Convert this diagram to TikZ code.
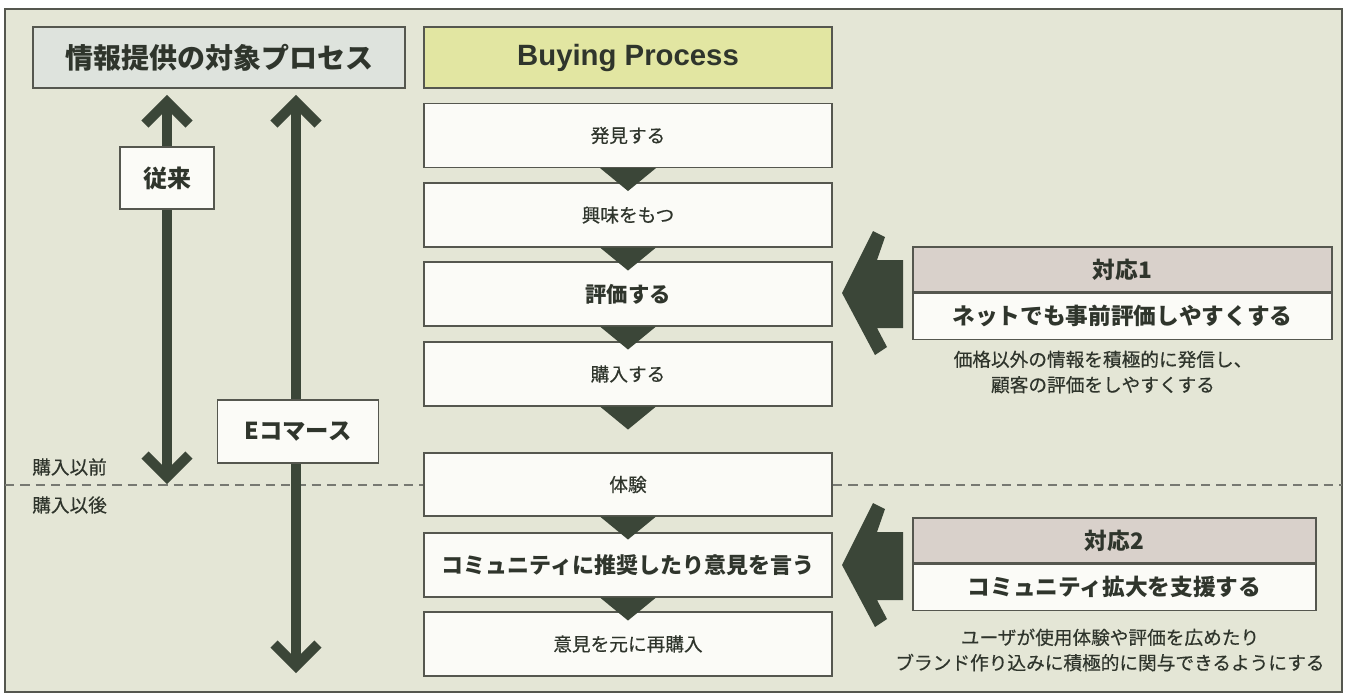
\documentclass[tikz,border=0pt]{standalone}
\usepackage{fontspec}
\setmainfont{Liberation Sans}
\newfontfamily\jp{Noto Sans CJK JP}
\newfontfamily\jpm[FakeBold=0.4]{Noto Sans CJK JP}
\definecolor{bg}{HTML}{E4E6D6}
\definecolor{titlebg}{HTML}{DEE3DD}
\definecolor{buybg}{HTML}{E2E6A2}
\definecolor{boxw}{HTML}{FBFBF7}
\definecolor{hdrbg}{HTML}{D9D1CB}
\definecolor{dk}{HTML}{3B4638}
\definecolor{txt}{HTML}{2F352C}
\definecolor{bordc}{HTML}{55574F}
\tikzset{
  box/.style={draw=bordc, line width=0.8pt, fill=boxw, inner sep=0pt, text=txt,
    minimum width=306pt, minimum height=48pt, font=\jpm\fontsize{14}{17}\selectfont},
  boldbox/.style={box, font=\jp\bfseries\fontsize{16.5}{20}\selectfont},
  hdr/.style={box, fill=hdrbg, minimum height=33.75pt, font=\jp\bfseries\fontsize{17}{20}\selectfont},
  body/.style={box, minimum height=34.5pt, font=\jp\bfseries\fontsize{17}{20}\selectfont},
  shaft/.style={draw=dk, line width=7.5pt},
  barb/.style={draw=dk, line width=7.5pt, line join=miter},
  tri/.style={fill=dk},
  bigarrow/.style={fill=dk},
  note/.style={text=txt, inner sep=0pt, align=center, font=\jpm\fontsize{14}{19}\selectfont},
  side/.style={text=txt, inner sep=0pt, font=\jpm\fontsize{14}{17}\selectfont}
}
\begin{document}
\begin{tikzpicture}[x=0.75pt,y=-0.75pt]
\useasboundingbox (0,0) rectangle (1346,697);
\fill[white] (0,0) rectangle (1346,697);
\draw[draw=bordc, line width=0.9pt, fill=bg] (5,9) rectangle (1342,692);
% dashed divider
\coordinate (dl) at (5,485);
\coordinate (dr) at (1342,485);
\draw[bordc!80, line width=0.8pt, dash pattern=on 7pt off 4.5pt] (dl) -- (dr);
\node[side, anchor=west] (before) at (32,467) {購入以前};
\node[side, anchor=west] (after) at (32,505) {購入以後};
% titles
\node[box, fill=titlebg, minimum width=279pt, minimum height=45.75pt,
  font=\jp\bfseries\fontsize{21}{25}\selectfont] (t1) at (219,57.5) {情報提供の対象プロセス};
\node[box, fill=buybg, minimum height=45.75pt,
  font=\bfseries\fontsize{22}{26}\selectfont] (t2) at (628,57.5) {Buying Process};
% vertical double arrows
\coordinate (a1t) at (167,102);
\coordinate (a1b) at (167,477);
\coordinate (a2t) at (296,102);
\coordinate (a2b) at (296,666);
\draw[shaft] (a1t) -- (a1b);
\draw[shaft] (a2t) -- (a2b);
\draw[barb] ([shift={(-22,22)}]a1t) -- (a1t) -- ([shift={(22,22)}]a1t);
\draw[barb] ([shift={(-22,-22)}]a1b) -- (a1b) -- ([shift={(22,-22)}]a1b);
\draw[barb] ([shift={(-22,22)}]a2t) -- (a2t) -- ([shift={(22,22)}]a2t);
\draw[barb] ([shift={(-22,-22)}]a2b) -- (a2b) -- ([shift={(22,-22)}]a2b);
\node[box, minimum width=70.5pt, minimum height=46.5pt,
  font=\jp\bfseries\fontsize{18}{21}\selectfont] (old) at (167,178) {従来};
\node[box, minimum width=120.75pt, minimum height=47.25pt,
  font=\jp\bfseries\fontsize{17.5}{21}\selectfont] (ec) at (298,431.5) {Eコマース};
% process boxes
\node[box] (p1) at (628,135.5) {発見する};
\node[box] (p2) at (628,215) {興味をもつ};
\node[boldbox, font=\jp\bfseries\fontsize{16}{20}\selectfont] (p3) at (628,294) {評価する};
\node[box] (p4) at (628,374) {購入する};
\node[box, minimum height=47.25pt] (p5) at (628,484.5) {体験};
\node[boldbox] (p6) at (628,565) {コミュニティに推奨したり意見を言う};
\node[box] (p7) at (628,644) {意見を元に再購入};
\foreach \a in {p1,p2,p3,p4,p5,p6}
  \fill[tri] ([xshift=-21pt]\a.south) -- ([xshift=21pt]\a.south) -- ([yshift=-17.25pt]\a.south) -- cycle;
% big arrows
\fill[bigarrow] (842,293) -- (873,231) -- (885,237) -- (877,260) -- (903,260) -- (903,328)
  -- (877,328) -- (887,347) -- (875,355) -- cycle;
\begin{scope}[yshift={-272*0.75pt}]
\fill[bigarrow] (842,293) -- (873,231) -- (885,237) -- (877,260) -- (903,260) -- (903,328)
  -- (877,328) -- (887,347) -- (875,355) -- cycle;
\end{scope}
% responses
\node[hdr, minimum width=314.25pt] (r1h) at (1122.5,269.5) {対応1};
\node[body, minimum width=314.25pt, anchor=north] (r1b) at (r1h.south) {ネットでも事前評価しやすくする};
\node[note] (r1n) at (1103,372) {価格以外の情報を積極的に発信し、\\顧客の評価をしやすくする};
\node[hdr, minimum width=302.25pt] (r2h) at (1114.5,540.5) {対応2};
\node[body, minimum width=302.25pt, anchor=north] (r2b) at (r2h.south) {コミュニティ拡大を支援する};
\node[note] (r2n) at (1110,650) {ユーザが使用体験や評価を広めたり\\ブランド作り込みに積極的に関与できるようにする};
\end{tikzpicture}
\end{document}
